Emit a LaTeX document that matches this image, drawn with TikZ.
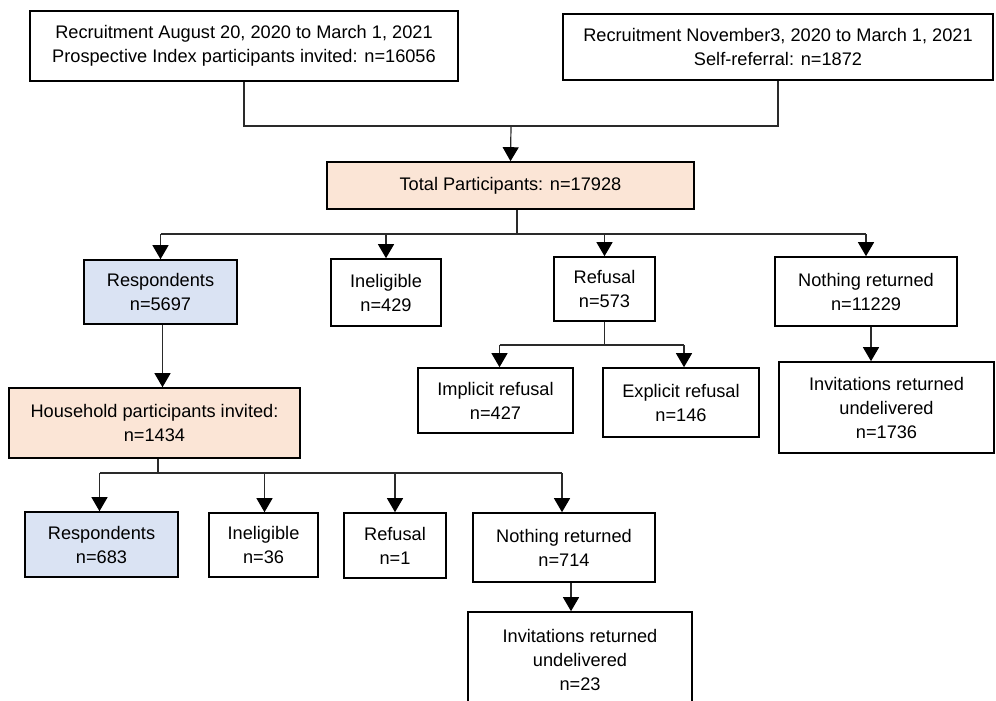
\documentclass[tikz,border=0pt]{standalone}
\usepackage{fontspec}
\setmainfont{Liberation Sans}
\usetikzlibrary{arrows.meta}
\definecolor{peach}{HTML}{FBE5D6}
\definecolor{lblue}{HTML}{DAE3F3}
\definecolor{conn}{HTML}{2A2A2A}
\begin{document}
\begin{tikzpicture}[x=1pt,y=-1pt,
  box/.style={draw=black, line width=1.6pt, align=center, inner sep=0pt, fill=white,
    font=\fontsize{18.2}{24}\selectfont},
  wh/.style 2 args={minimum width=#1pt, minimum height=#2pt},
  conline/.style={draw=conn, line width=1.2pt},
  arr/.style={conline, -{Triangle[width=16pt,length=14pt,color=black]}}]
\useasboundingbox (0,0) rectangle (996,701);
\clip (0,0) rectangle (996,701);
\fill[white] (0,0) rectangle (996,701);

% nodes
\node[box, wh={428}{70}] (top1) at (244,46) {Recruitment August 20, 2020 to March 1, 2021\\Prospective Index participants invited: n=16056};
\node[box, wh={430}{66}] (top2) at (778,47) {Recruitment November3, 2020 to March 1, 2021\\Self-referral: n=1872};
\node[box, fill=peach, wh={367}{47}] (total) at (510.5,185.5) {Total Participants: n=17928};

\node[box, fill=lblue, wh={153}{64}] (resp1) at (160.5,292) {Respondents\\n=5697};
\node[box, wh={110}{67}] (inel1) at (386,292.5) {Ineligible\\n=429};
\node[box, wh={101}{64}] (ref1) at (604.5,289) {Refusal\\n=573};
\node[box, wh={182}{69}] (noth1) at (866,291.5) {Nothing returned\\n=11229};

\node[box, wh={155}{65}] (impl) at (495.5,400.5) {Implicit refusal\\n=427};
\node[box, wh={156}{69}] (expl) at (681,402.5) {Explicit refusal\\n=146};
\node[box, wh={215}{91}] (inv1) at (886.5,407.5) {Invitations returned\\undelivered\\n=1736};

\node[box, fill=peach, wh={291}{70}] (house) at (154.5,423) {Household participants invited:\\n=1434};

\node[box, fill=lblue, wh={153}{65}] (resp2) at (101.5,544.5) {Respondents\\n=683};
\node[box, wh={109}{64}] (inel2) at (263.5,545) {Ineligible\\n=36};
\node[box, wh={102}{65}] (ref2) at (395,545.5) {Refusal\\n=1};
\node[box, wh={182}{69}] (noth2) at (564,547.5) {Nothing returned\\n=714};
\node[box, wh={224}{96}] (inv2) at (580,660) {Invitations returned\\undelivered\\n=23};

% top merge
\coordinate (j0) at (511,126);
\draw[conline] (top1.south) -- (top1.south |- j0) -- (top2.south |- j0) -- (top2.south);
\draw[arr] (j0) -- (total.north);

% total branch
\coordinate (j1) at (517,234);
\draw[conline] (total.south -| j1) -- (j1);
\draw[conline] (resp1.north |- j1) -- (noth1.north |- j1);
\draw[arr] (resp1.north |- j1) -- (resp1.north);
\draw[arr] (inel1.north |- j1) -- (inel1.north);
\draw[arr] (ref1.north |- j1) -- (ref1.north);
\draw[arr] (noth1.north |- j1) -- (noth1.north);

% refusal branch
\coordinate (j2) at (604.5,345);
\draw[conline] (ref1.south) -- (j2);
\draw[conline] ([xshift=4pt]impl.north |- j2) -- ([xshift=3pt]expl.north |- j2);
\draw[arr] ([xshift=4pt]impl.north |- j2) -- ([xshift=4pt]impl.north);
\draw[arr] ([xshift=3pt]expl.north |- j2) -- ([xshift=3pt]expl.north);

% nothing -> invitations
\draw[arr] ([xshift=5pt]noth1.south) -- ([xshift=5pt]noth1.south |- inv1.north);

% respondents -> household
\draw[arr] ([xshift=2pt]resp1.south) -- ([xshift=2pt]resp1.south |- house.north);

% household branch
\coordinate (j3) at (158,473);
\draw[conline] (house.south -| j3) -- (j3);
\draw[conline] ([xshift=-2pt]resp2.north |- j3) -- ([xshift=-2pt]noth2.north |- j3);
\draw[arr] ([xshift=-2pt]resp2.north |- j3) -- ([xshift=-2pt]resp2.north);
\draw[arr] ([xshift=1pt]inel2.north |- j3) -- ([xshift=1pt]inel2.north);
\draw[arr] (ref2.north |- j3) -- (ref2.north);
\draw[arr] ([xshift=-2pt]noth2.north |- j3) -- ([xshift=-2pt]noth2.north);

% nothing2 -> invitations2
\draw[arr] ([xshift=7pt]noth2.south) -- ([xshift=7pt]noth2.south |- inv2.north);
\end{tikzpicture}
\end{document}
